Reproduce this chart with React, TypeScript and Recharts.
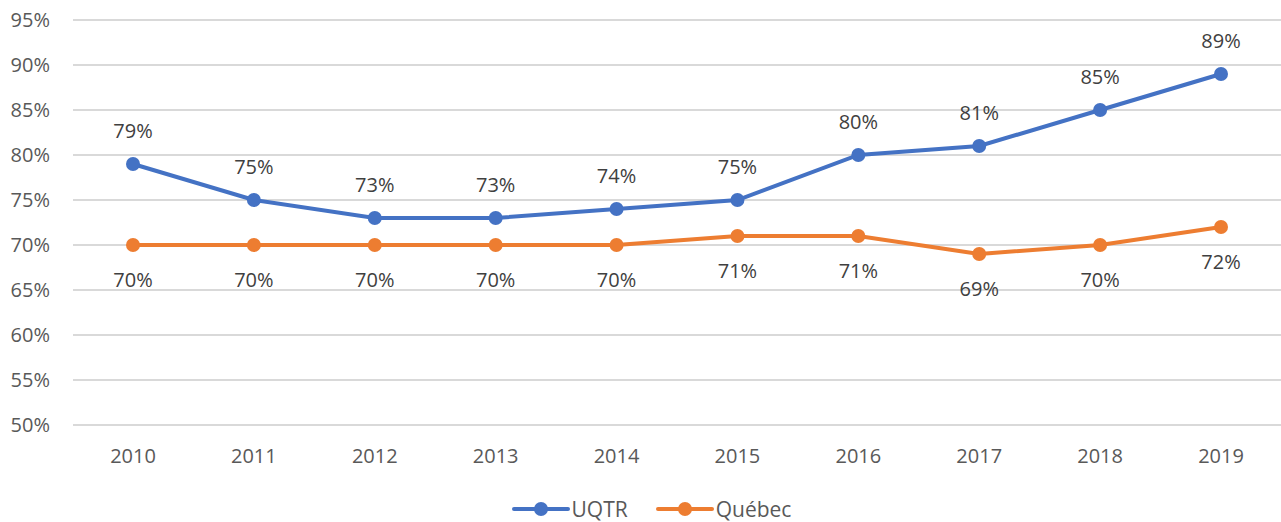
import { CartesianGrid, LabelList, Legend, Line, LineChart, XAxis, YAxis } from "recharts";

const years = ["2010", "2011", "2012", "2013", "2014", "2015", "2016", "2017", "2018", "2019"];
const uqtr = [79, 75, 73, 73, 74, 75, 80, 81, 85, 89];
const quebec = [70, 70, 70, 70, 70, 71, 71, 69, 70, 72];
const yTicks = [50, 55, 60, 65, 70, 75, 80, 85, 90, 95];

const BLUE = "#4472C4";
const ORANGE = "#ED7D31";
const FONT = "'Open Sans', sans-serif";

const data = years.map((year, i) => ({ year, UQTR: uqtr[i], Quebec: quebec[i] }));

const legendItems = [
  { label: "UQTR", color: BLUE },
  { label: "Québec", color: ORANGE },
];

const ChartLegend = () => (
  <div
    style={{
      display: "flex",
      justifyContent: "center",
      gap: 28,
      paddingLeft: 22,
      fontFamily: FONT,
      fontSize: 21,
      color: "#595959",
      height: 27,
    }}
  >
    {legendItems.map((item) => (
      <div key={item.label} style={{ display: "flex", alignItems: "center" }}>
        <svg width={58} height={16} style={{ marginRight: 2 }}>
          <line x1={2} y1={8} x2={56} y2={8} stroke={item.color} strokeWidth={4} strokeLinecap="round" />
          <circle cx={29} cy={8} r={7} fill={item.color} />
        </svg>
        <span>{item.label}</span>
      </div>
    ))}
  </div>
);

const pct = (v: any) => `${v}%`;

const App = () => {
  return (
    <div style={{ position: "absolute", left: 0, top: 0 }}>
      <LineChart width={1281} height={522} data={data} margin={{ top: 20, right: 0, bottom: 20, left: 0 }}>
        <CartesianGrid vertical={false} stroke="#d9d9d9" strokeWidth={2} />
        <XAxis
          dataKey="year"
          axisLine={false}
          tickLine={false}
          tickSize={0}
          tickMargin={24}
          height={50}
          padding={{ left: 60, right: 60 }}
          tick={{ fill: "#595959", fontSize: 20, fontFamily: FONT }}
        />
        <YAxis
          domain={[50, 95]}
          ticks={yTicks}
          tickFormatter={pct}
          axisLine={false}
          tickLine={false}
          tickSize={0}
          tickMargin={23}
          width={73}
          tick={{ fill: "#595959", fontSize: 20, fontFamily: FONT }}
        />
        <Legend verticalAlign="bottom" content={() => <ChartLegend />} wrapperStyle={{ bottom: 0 }} />
        <Line
          dataKey="UQTR"
          stroke={BLUE}
          strokeWidth={4}
          dot={{ r: 7, fill: BLUE, stroke: BLUE, strokeWidth: 0 }}
          isAnimationActive={false}
        >
          <LabelList dataKey="UQTR" position="top" offset={26} formatter={pct} fill="#404040" fontSize={20} fontFamily={FONT} />
        </Line>
        <Line
          dataKey="Quebec"
          stroke={ORANGE}
          strokeWidth={4}
          dot={{ r: 7, fill: ORANGE, stroke: ORANGE, strokeWidth: 0 }}
          isAnimationActive={false}
        >
          <LabelList dataKey="Quebec" position="bottom" offset={28} formatter={pct} fill="#404040" fontSize={20} fontFamily={FONT} />
        </Line>
      </LineChart>
    </div>
  );
};

export default App;
